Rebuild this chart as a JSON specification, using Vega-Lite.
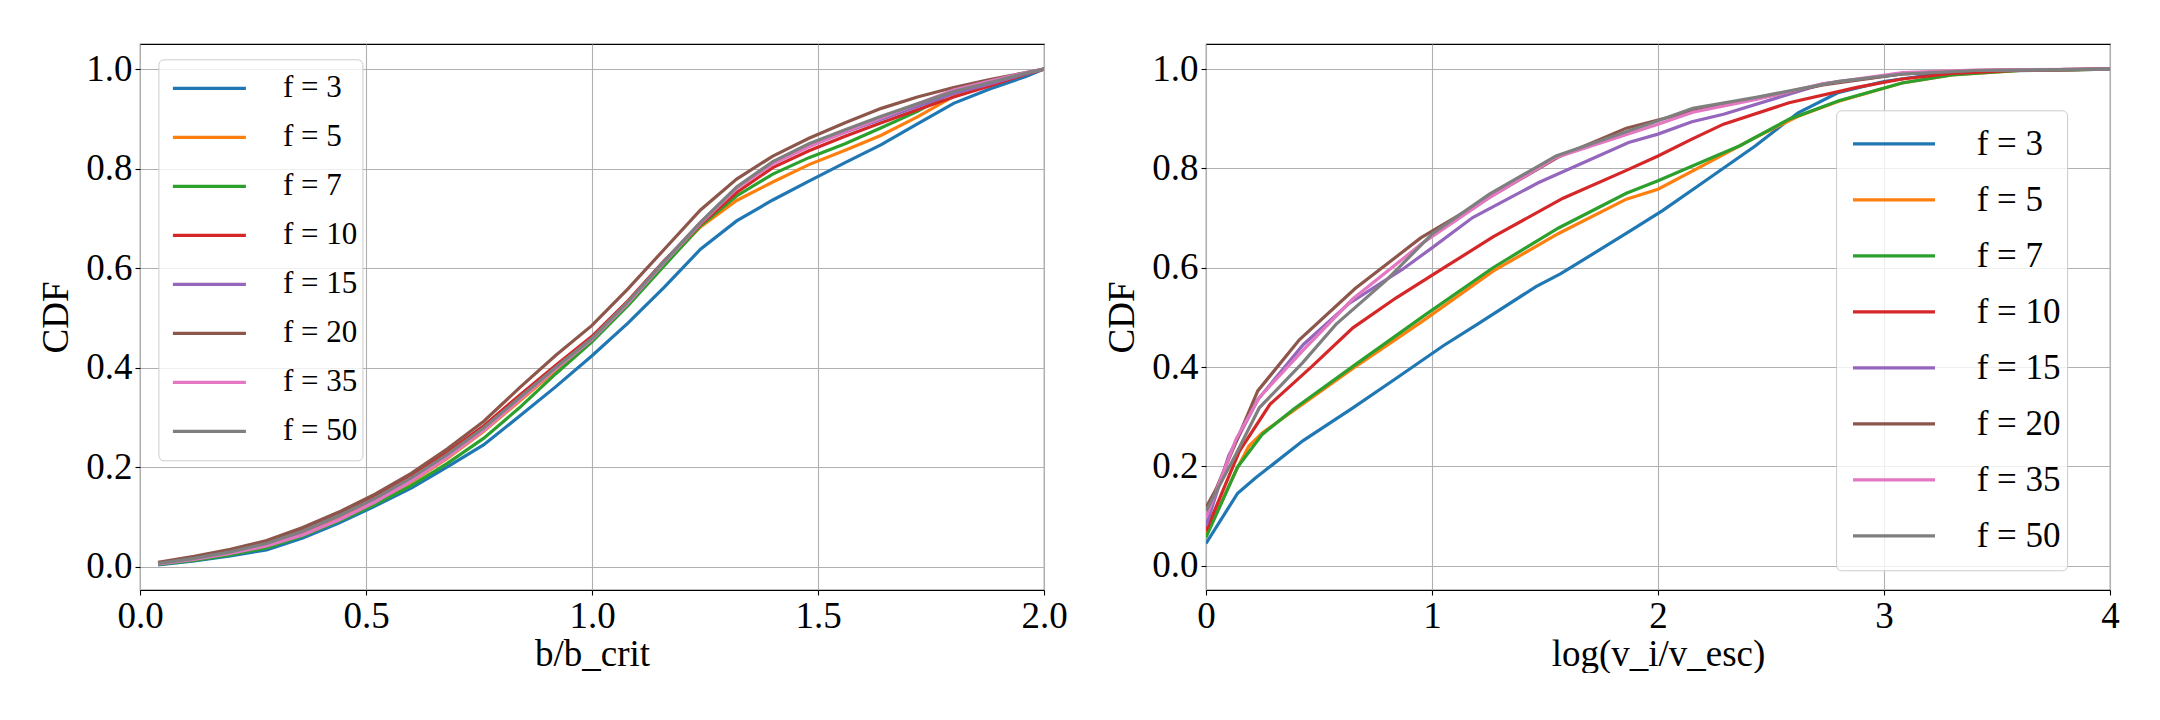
{
 "$schema": "https://vega.github.io/schema/vega-lite/v6.json",
 "background": "white",
 "padding": {"left": 37, "top": 43, "right": 0, "bottom": 0},
 "config": {
  "font": "Liberation Serif",
  "view": {"stroke": "black", "strokeWidth": 1.1},
  "axis": {"domain": false, "grid": true, "gridColor": "#b0b0b0", "gridWidth": 1.1, "gridOpacity": 1, "tickColor": "black", "tickWidth": 1.1, "tickSize": 5, "labelFont": "Liberation Serif", "labelFontSize": 37, "labelColor": "black", "titleFont": "Liberation Serif", "titleFontSize": 37, "titleFontWeight": "normal", "titleColor": "black", "labelFlush": false, "labelOverlap": false, "labelPadding": 3},
  "axisY": {"titlePadding": 10},
  "axisX": {"titlePadding": 2}
 },
 "datasets": {
  "left": [
   {"f":"f = 3","x":0.04,"y":0.004},{"f":"f = 3","x":0.12,"y":0.012},{"f":"f = 3","x":0.2,"y":0.022},{"f":"f = 3","x":0.28,"y":0.034},{"f":"f = 3","x":0.36,"y":0.058},{"f":"f = 3","x":0.44,"y":0.088},{"f":"f = 3","x":0.52,"y":0.122},{"f":"f = 3","x":0.6,"y":0.158},{"f":"f = 3","x":0.68,"y":0.201},{"f":"f = 3","x":0.76,"y":0.245},{"f":"f = 3","x":0.84,"y":0.303},{"f":"f = 3","x":0.92,"y":0.362},{"f":"f = 3","x":1.0,"y":0.424},{"f":"f = 3","x":1.08,"y":0.49},{"f":"f = 3","x":1.16,"y":0.562},{"f":"f = 3","x":1.24,"y":0.638},{"f":"f = 3","x":1.32,"y":0.695},{"f":"f = 3","x":1.4,"y":0.737},{"f":"f = 3","x":1.48,"y":0.775},{"f":"f = 3","x":1.56,"y":0.812},{"f":"f = 3","x":1.64,"y":0.848},{"f":"f = 3","x":1.72,"y":0.89},{"f":"f = 3","x":1.8,"y":0.931},{"f":"f = 3","x":1.88,"y":0.96},{"f":"f = 3","x":1.96,"y":0.985},{"f":"f = 3","x":2.0,"y":1.0},
   {"f":"f = 5","x":0.04,"y":0.006},{"f":"f = 5","x":0.12,"y":0.015},{"f":"f = 5","x":0.2,"y":0.027},{"f":"f = 5","x":0.28,"y":0.043},{"f":"f = 5","x":0.36,"y":0.067},{"f":"f = 5","x":0.44,"y":0.096},{"f":"f = 5","x":0.52,"y":0.13},{"f":"f = 5","x":0.6,"y":0.17},{"f":"f = 5","x":0.68,"y":0.218},{"f":"f = 5","x":0.76,"y":0.272},{"f":"f = 5","x":0.84,"y":0.333},{"f":"f = 5","x":0.92,"y":0.395},{"f":"f = 5","x":1.0,"y":0.455},{"f":"f = 5","x":1.08,"y":0.527},{"f":"f = 5","x":1.16,"y":0.608},{"f":"f = 5","x":1.24,"y":0.683},{"f":"f = 5","x":1.32,"y":0.736},{"f":"f = 5","x":1.4,"y":0.773},{"f":"f = 5","x":1.48,"y":0.808},{"f":"f = 5","x":1.56,"y":0.837},{"f":"f = 5","x":1.64,"y":0.867},{"f":"f = 5","x":1.72,"y":0.904},{"f":"f = 5","x":1.8,"y":0.945},{"f":"f = 5","x":1.88,"y":0.968},{"f":"f = 5","x":1.96,"y":0.99},{"f":"f = 5","x":2.0,"y":1.0},
   {"f":"f = 7","x":0.04,"y":0.005},{"f":"f = 7","x":0.12,"y":0.013},{"f":"f = 7","x":0.2,"y":0.024},{"f":"f = 7","x":0.28,"y":0.038},{"f":"f = 7","x":0.36,"y":0.062},{"f":"f = 7","x":0.44,"y":0.092},{"f":"f = 7","x":0.52,"y":0.125},{"f":"f = 7","x":0.6,"y":0.163},{"f":"f = 7","x":0.68,"y":0.208},{"f":"f = 7","x":0.76,"y":0.258},{"f":"f = 7","x":0.84,"y":0.32},{"f":"f = 7","x":0.92,"y":0.388},{"f":"f = 7","x":1.0,"y":0.452},{"f":"f = 7","x":1.08,"y":0.525},{"f":"f = 7","x":1.16,"y":0.605},{"f":"f = 7","x":1.24,"y":0.685},{"f":"f = 7","x":1.32,"y":0.745},{"f":"f = 7","x":1.4,"y":0.789},{"f":"f = 7","x":1.48,"y":0.822},{"f":"f = 7","x":1.56,"y":0.85},{"f":"f = 7","x":1.64,"y":0.882},{"f":"f = 7","x":1.72,"y":0.915},{"f":"f = 7","x":1.8,"y":0.955},{"f":"f = 7","x":1.88,"y":0.972},{"f":"f = 7","x":1.96,"y":0.991},{"f":"f = 7","x":2.0,"y":1.0},
   {"f":"f = 10","x":0.04,"y":0.007},{"f":"f = 10","x":0.12,"y":0.018},{"f":"f = 10","x":0.2,"y":0.031},{"f":"f = 10","x":0.28,"y":0.049},{"f":"f = 10","x":0.36,"y":0.075},{"f":"f = 10","x":0.44,"y":0.107},{"f":"f = 10","x":0.52,"y":0.142},{"f":"f = 10","x":0.6,"y":0.183},{"f":"f = 10","x":0.68,"y":0.23},{"f":"f = 10","x":0.76,"y":0.283},{"f":"f = 10","x":0.84,"y":0.345},{"f":"f = 10","x":0.92,"y":0.405},{"f":"f = 10","x":1.0,"y":0.463},{"f":"f = 10","x":1.08,"y":0.535},{"f":"f = 10","x":1.16,"y":0.615},{"f":"f = 10","x":1.24,"y":0.688},{"f":"f = 10","x":1.32,"y":0.752},{"f":"f = 10","x":1.4,"y":0.802},{"f":"f = 10","x":1.48,"y":0.836},{"f":"f = 10","x":1.56,"y":0.865},{"f":"f = 10","x":1.64,"y":0.892},{"f":"f = 10","x":1.72,"y":0.918},{"f":"f = 10","x":1.8,"y":0.944},{"f":"f = 10","x":1.88,"y":0.966},{"f":"f = 10","x":1.96,"y":0.99},{"f":"f = 10","x":2.0,"y":1.0},
   {"f":"f = 15","x":0.04,"y":0.006},{"f":"f = 15","x":0.12,"y":0.016},{"f":"f = 15","x":0.2,"y":0.029},{"f":"f = 15","x":0.28,"y":0.046},{"f":"f = 15","x":0.36,"y":0.071},{"f":"f = 15","x":0.44,"y":0.102},{"f":"f = 15","x":0.52,"y":0.137},{"f":"f = 15","x":0.6,"y":0.177},{"f":"f = 15","x":0.68,"y":0.224},{"f":"f = 15","x":0.76,"y":0.277},{"f":"f = 15","x":0.84,"y":0.338},{"f":"f = 15","x":0.92,"y":0.399},{"f":"f = 15","x":1.0,"y":0.458},{"f":"f = 15","x":1.08,"y":0.532},{"f":"f = 15","x":1.16,"y":0.614},{"f":"f = 15","x":1.24,"y":0.692},{"f":"f = 15","x":1.32,"y":0.762},{"f":"f = 15","x":1.4,"y":0.811},{"f":"f = 15","x":1.48,"y":0.845},{"f":"f = 15","x":1.56,"y":0.873},{"f":"f = 15","x":1.64,"y":0.899},{"f":"f = 15","x":1.72,"y":0.925},{"f":"f = 15","x":1.8,"y":0.951},{"f":"f = 15","x":1.88,"y":0.97},{"f":"f = 15","x":1.96,"y":0.991},{"f":"f = 15","x":2.0,"y":1.0},
   {"f":"f = 20","x":0.04,"y":0.009},{"f":"f = 20","x":0.12,"y":0.021},{"f":"f = 20","x":0.2,"y":0.035},{"f":"f = 20","x":0.28,"y":0.053},{"f":"f = 20","x":0.36,"y":0.079},{"f":"f = 20","x":0.44,"y":0.11},{"f":"f = 20","x":0.52,"y":0.146},{"f":"f = 20","x":0.6,"y":0.188},{"f":"f = 20","x":0.68,"y":0.237},{"f":"f = 20","x":0.76,"y":0.292},{"f":"f = 20","x":0.84,"y":0.36},{"f":"f = 20","x":0.92,"y":0.425},{"f":"f = 20","x":1.0,"y":0.485},{"f":"f = 20","x":1.08,"y":0.559},{"f":"f = 20","x":1.16,"y":0.638},{"f":"f = 20","x":1.24,"y":0.717},{"f":"f = 20","x":1.32,"y":0.779},{"f":"f = 20","x":1.4,"y":0.825},{"f":"f = 20","x":1.48,"y":0.861},{"f":"f = 20","x":1.56,"y":0.892},{"f":"f = 20","x":1.64,"y":0.921},{"f":"f = 20","x":1.72,"y":0.944},{"f":"f = 20","x":1.8,"y":0.963},{"f":"f = 20","x":1.88,"y":0.979},{"f":"f = 20","x":1.96,"y":0.993},{"f":"f = 20","x":2.0,"y":1.0},
   {"f":"f = 35","x":0.04,"y":0.006},{"f":"f = 35","x":0.12,"y":0.015},{"f":"f = 35","x":0.2,"y":0.027},{"f":"f = 35","x":0.28,"y":0.042},{"f":"f = 35","x":0.36,"y":0.064},{"f":"f = 35","x":0.44,"y":0.094},{"f":"f = 35","x":0.52,"y":0.13},{"f":"f = 35","x":0.6,"y":0.172},{"f":"f = 35","x":0.68,"y":0.22},{"f":"f = 35","x":0.76,"y":0.274},{"f":"f = 35","x":0.84,"y":0.336},{"f":"f = 35","x":0.92,"y":0.398},{"f":"f = 35","x":1.0,"y":0.457},{"f":"f = 35","x":1.08,"y":0.53},{"f":"f = 35","x":1.16,"y":0.612},{"f":"f = 35","x":1.24,"y":0.69},{"f":"f = 35","x":1.32,"y":0.76},{"f":"f = 35","x":1.4,"y":0.809},{"f":"f = 35","x":1.48,"y":0.844},{"f":"f = 35","x":1.56,"y":0.874},{"f":"f = 35","x":1.64,"y":0.902},{"f":"f = 35","x":1.72,"y":0.93},{"f":"f = 35","x":1.8,"y":0.958},{"f":"f = 35","x":1.88,"y":0.976},{"f":"f = 35","x":1.96,"y":0.993},{"f":"f = 35","x":2.0,"y":1.0},
   {"f":"f = 50","x":0.04,"y":0.007},{"f":"f = 50","x":0.12,"y":0.017},{"f":"f = 50","x":0.2,"y":0.03},{"f":"f = 50","x":0.28,"y":0.047},{"f":"f = 50","x":0.36,"y":0.072},{"f":"f = 50","x":0.44,"y":0.103},{"f":"f = 50","x":0.52,"y":0.138},{"f":"f = 50","x":0.6,"y":0.179},{"f":"f = 50","x":0.68,"y":0.226},{"f":"f = 50","x":0.76,"y":0.279},{"f":"f = 50","x":0.84,"y":0.34},{"f":"f = 50","x":0.92,"y":0.401},{"f":"f = 50","x":1.0,"y":0.459},{"f":"f = 50","x":1.08,"y":0.533},{"f":"f = 50","x":1.16,"y":0.614},{"f":"f = 50","x":1.24,"y":0.692},{"f":"f = 50","x":1.32,"y":0.763},{"f":"f = 50","x":1.4,"y":0.814},{"f":"f = 50","x":1.48,"y":0.85},{"f":"f = 50","x":1.56,"y":0.878},{"f":"f = 50","x":1.64,"y":0.905},{"f":"f = 50","x":1.72,"y":0.93},{"f":"f = 50","x":1.8,"y":0.955},{"f":"f = 50","x":1.88,"y":0.973},{"f":"f = 50","x":1.96,"y":0.992},{"f":"f = 50","x":2.0,"y":1.0}
  ],
  "right": [
   {"f":"f = 3","x":0,"y":0.045},{"f":"f = 3","x":0.14,"y":0.146},{"f":"f = 3","x":0.22,"y":0.177},{"f":"f = 3","x":0.43,"y":0.252},{"f":"f = 3","x":0.65,"y":0.318},{"f":"f = 3","x":0.85,"y":0.38},{"f":"f = 3","x":1.05,"y":0.443},{"f":"f = 3","x":1.2,"y":0.486},{"f":"f = 3","x":1.46,"y":0.562},{"f":"f = 3","x":1.57,"y":0.588},{"f":"f = 3","x":1.87,"y":0.672},{"f":"f = 3","x":2.02,"y":0.715},{"f":"f = 3","x":2.21,"y":0.775},{"f":"f = 3","x":2.43,"y":0.845},{"f":"f = 3","x":2.62,"y":0.912},{"f":"f = 3","x":2.8,"y":0.953},{"f":"f = 3","x":3.0,"y":0.975},{"f":"f = 3","x":3.2,"y":0.988},{"f":"f = 3","x":3.5,"y":0.996},{"f":"f = 3","x":4.0,"y":1.0},
   {"f":"f = 5","x":0,"y":0.062},{"f":"f = 5","x":0.14,"y":0.198},{"f":"f = 5","x":0.19,"y":0.241},{"f":"f = 5","x":0.25,"y":0.268},{"f":"f = 5","x":0.39,"y":0.313},{"f":"f = 5","x":0.65,"y":0.397},{"f":"f = 5","x":0.96,"y":0.493},{"f":"f = 5","x":1.27,"y":0.593},{"f":"f = 5","x":1.56,"y":0.669},{"f":"f = 5","x":1.86,"y":0.738},{"f":"f = 5","x":2.0,"y":0.758},{"f":"f = 5","x":2.2,"y":0.806},{"f":"f = 5","x":2.43,"y":0.862},{"f":"f = 5","x":2.62,"y":0.905},{"f":"f = 5","x":2.8,"y":0.935},{"f":"f = 5","x":3.08,"y":0.972},{"f":"f = 5","x":3.3,"y":0.988},{"f":"f = 5","x":3.6,"y":0.997},{"f":"f = 5","x":4.0,"y":1.0},
   {"f":"f = 7","x":0,"y":0.057},{"f":"f = 7","x":0.14,"y":0.199},{"f":"f = 7","x":0.25,"y":0.265},{"f":"f = 7","x":0.39,"y":0.316},{"f":"f = 7","x":0.67,"y":0.408},{"f":"f = 7","x":0.97,"y":0.505},{"f":"f = 7","x":1.27,"y":0.6},{"f":"f = 7","x":1.56,"y":0.68},{"f":"f = 7","x":1.86,"y":0.75},{"f":"f = 7","x":2.0,"y":0.775},{"f":"f = 7","x":2.24,"y":0.822},{"f":"f = 7","x":2.36,"y":0.845},{"f":"f = 7","x":2.58,"y":0.899},{"f":"f = 7","x":2.8,"y":0.936},{"f":"f = 7","x":3.08,"y":0.972},{"f":"f = 7","x":3.3,"y":0.988},{"f":"f = 7","x":3.6,"y":0.997},{"f":"f = 7","x":4.0,"y":1.0},
   {"f":"f = 10","x":0,"y":0.07},{"f":"f = 10","x":0.148,"y":0.231},{"f":"f = 10","x":0.283,"y":0.325},{"f":"f = 10","x":0.47,"y":0.402},{"f":"f = 10","x":0.65,"y":0.479},{"f":"f = 10","x":0.84,"y":0.539},{"f":"f = 10","x":1.05,"y":0.599},{"f":"f = 10","x":1.27,"y":0.662},{"f":"f = 10","x":1.58,"y":0.74},{"f":"f = 10","x":1.86,"y":0.796},{"f":"f = 10","x":2.0,"y":0.825},{"f":"f = 10","x":2.15,"y":0.859},{"f":"f = 10","x":2.29,"y":0.889},{"f":"f = 10","x":2.58,"y":0.932},{"f":"f = 10","x":2.88,"y":0.963},{"f":"f = 10","x":3.08,"y":0.98},{"f":"f = 10","x":3.3,"y":0.991},{"f":"f = 10","x":3.6,"y":0.998},{"f":"f = 10","x":4.0,"y":1.0},
   {"f":"f = 15","x":0,"y":0.08},{"f":"f = 15","x":0.1,"y":0.221},{"f":"f = 15","x":0.23,"y":0.335},{"f":"f = 15","x":0.43,"y":0.445},{"f":"f = 15","x":0.63,"y":0.527},{"f":"f = 15","x":0.87,"y":0.597},{"f":"f = 15","x":1.0,"y":0.64},{"f":"f = 15","x":1.18,"y":0.701},{"f":"f = 15","x":1.47,"y":0.771},{"f":"f = 15","x":1.87,"y":0.852},{"f":"f = 15","x":2.0,"y":0.869},{"f":"f = 15","x":2.15,"y":0.894},{"f":"f = 15","x":2.29,"y":0.909},{"f":"f = 15","x":2.73,"y":0.97},{"f":"f = 15","x":3.08,"y":0.99},{"f":"f = 15","x":3.4,"y":0.997},{"f":"f = 15","x":4.0,"y":1.0},
   {"f":"f = 20","x":0,"y":0.117},{"f":"f = 20","x":0.044,"y":0.154},{"f":"f = 20","x":0.229,"y":0.352},{"f":"f = 20","x":0.413,"y":0.455},{"f":"f = 20","x":0.66,"y":0.558},{"f":"f = 20","x":0.95,"y":0.66},{"f":"f = 20","x":1.27,"y":0.746},{"f":"f = 20","x":1.56,"y":0.823},{"f":"f = 20","x":1.86,"y":0.881},{"f":"f = 20","x":2.15,"y":0.915},{"f":"f = 20","x":2.43,"y":0.94},{"f":"f = 20","x":2.73,"y":0.968},{"f":"f = 20","x":3.08,"y":0.99},{"f":"f = 20","x":3.4,"y":0.997},{"f":"f = 20","x":4.0,"y":1.0},
   {"f":"f = 35","x":0,"y":0.097},{"f":"f = 35","x":0.133,"y":0.255},{"f":"f = 35","x":0.236,"y":0.339},{"f":"f = 35","x":0.428,"y":0.433},{"f":"f = 35","x":0.649,"y":0.537},{"f":"f = 35","x":0.959,"y":0.65},{"f":"f = 35","x":1.254,"y":0.741},{"f":"f = 35","x":1.549,"y":0.822},{"f":"f = 35","x":2.0,"y":0.889},{"f":"f = 35","x":2.154,"y":0.913},{"f":"f = 35","x":2.434,"y":0.939},{"f":"f = 35","x":2.728,"y":0.97},{"f":"f = 35","x":3.083,"y":0.993},{"f":"f = 35","x":3.4,"y":0.998},{"f":"f = 35","x":4.0,"y":1.0},
   {"f":"f = 50","x":0,"y":0.11},{"f":"f = 50","x":0.133,"y":0.225},{"f":"f = 50","x":0.236,"y":0.318},{"f":"f = 50","x":0.428,"y":0.409},{"f":"f = 50","x":0.575,"y":0.486},{"f":"f = 50","x":0.796,"y":0.574},{"f":"f = 50","x":1.003,"y":0.669},{"f":"f = 50","x":1.254,"y":0.748},{"f":"f = 50","x":1.549,"y":0.825},{"f":"f = 50","x":2.0,"y":0.896},{"f":"f = 50","x":2.154,"y":0.921},{"f":"f = 50","x":2.434,"y":0.943},{"f":"f = 50","x":2.8,"y":0.975},{"f":"f = 50","x":3.083,"y":0.99},{"f":"f = 50","x":3.4,"y":0.997},{"f":"f = 50","x":4.0,"y":1.0}
  ]
 },
 "spacing": 162,
 "bounds": "flush",
 "resolve": {"scale": {"color": "independent"}, "legend": {"color": "independent"}},
 "hconcat": [
  {
   "width": 904, "height": 546,
   "data": {"name": "left"},
   "mark": {"type": "line", "strokeWidth": 3.2, "clip": true},
   "encoding": {
    "x": {"field": "x", "type": "quantitative", "scale": {"domain": [0, 2], "nice": false, "zero": false}, "axis": {"values": [0, 0.5, 1, 1.5, 2], "format": ".1f", "title": "b/b_crit"}},
    "y": {"field": "y", "type": "quantitative", "scale": {"domain": [-0.0465, 1.0503], "nice": false, "zero": false}, "axis": {"values": [0, 0.2, 0.4, 0.6, 0.8, 1.0], "format": ".1f", "title": "CDF"}},
    "color": {"field": "f", "type": "nominal",
     "scale": {"domain": ["f = 3","f = 5","f = 7","f = 10","f = 15","f = 20","f = 35","f = 50"], "range": ["#1f77b4","#ff7f0e","#2ca02c","#d62728","#9467bd","#8c564b","#e377c2","#7f7f7f"]},
     "legend": {"title": null, "orient": "none", "legendX": 18.4, "legendY": 15.3, "padding": 4.5, "clipHeight": 49, "rowPadding": 0, "symbolType": "stroke", "symbolSize": 5329, "symbolStrokeWidth": 3.2, "symbolOffset": 8, "labelOffset": 35, "labelFontSize": 31, "labelFont": "Liberation Serif", "labelColor": "black", "fillColor": "rgba(255,255,255,0.8)", "strokeColor": "#cccccc", "cornerRadius": 5}}
   }
  },
  {
   "width": 904, "height": 546,
   "data": {"name": "right"},
   "mark": {"type": "line", "strokeWidth": 3.2, "clip": true},
   "encoding": {
    "x": {"field": "x", "type": "quantitative", "scale": {"domain": [0, 4], "nice": false, "zero": false}, "axis": {"values": [0, 1, 2, 3, 4], "format": "d", "title": "log(v_i/v_esc)"}},
    "y": {"field": "y", "type": "quantitative", "scale": {"domain": [-0.0488, 1.0504], "nice": false, "zero": false}, "axis": {"values": [0, 0.2, 0.4, 0.6, 0.8, 1.0], "format": ".1f", "title": "CDF"}},
    "color": {"field": "f", "type": "nominal",
     "scale": {"domain": ["f = 3","f = 5","f = 7","f = 10","f = 15","f = 20","f = 35","f = 50"], "range": ["#1f77b4","#ff7f0e","#2ca02c","#d62728","#9467bd","#8c564b","#e377c2","#7f7f7f"]},
     "legend": {"title": null, "orient": "none", "legendX": 630.1, "legendY": 66.3, "padding": 5.7, "clipHeight": 55.7, "rowPadding": 0, "symbolType": "stroke", "symbolSize": 6724, "symbolStrokeWidth": 3.2, "symbolOffset": 9.2, "labelOffset": 39.7, "labelFontSize": 35, "labelFont": "Liberation Serif", "labelColor": "black", "fillColor": "rgba(255,255,255,0.8)", "strokeColor": "#cccccc", "cornerRadius": 5}}
   }
  }
 ]
}
